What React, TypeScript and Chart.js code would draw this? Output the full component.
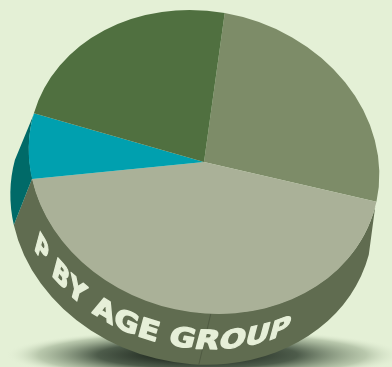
import { useEffect, useRef } from 'react';
import { Chart, registerables } from 'chart.js';
Chart.register(...registerables);

const labels = ['Group A', 'Group B', 'Group C', 'Group D'];
const values = [26, 44, 7, 23];
const topColors = ['#7d8c68', '#aab198', '#00a0af', '#507040'];
const wallColors = ['#5a6648', '#606c50', '#006a68', '#3a5530'];
const titleText = 'P BY AGE GROUP';

const BG = '#e4f0d6';
const CX = 204, CY = 162, AX = 177, BY = 150, TILT = (15 * Math.PI) / 180, DEPTH = 47;
const FLARE = 1.035;
const TXT_START = (142 * Math.PI) / 180, TXT_END = (46 * Math.PI) / 180;
const SEAM = (75 * Math.PI) / 180;

function applyView(ctx: CanvasRenderingContext2D, el: any) {
  const R = el.outerRadius;
  ctx.translate(CX, CY);
  ctx.rotate(TILT);
  ctx.scale(AX / R, BY / R);
  ctx.translate(-el.x, -el.y);
}

const pie3d = {
  id: 'pie3d',
  beforeDraw(chart: any) {
    const ctx: CanvasRenderingContext2D = chart.ctx;
    ctx.save();
    ctx.fillStyle = BG;
    ctx.fillRect(0, 0, chart.width, chart.height);
    ctx.translate(205, 355);
    ctx.scale(1, 0.13);
    const g = ctx.createRadialGradient(-15, 0, 0, 0, 0, 200);
    g.addColorStop(0, 'rgba(10,16,10,1)');
    g.addColorStop(0.5, 'rgba(40,55,40,0.8)');
    g.addColorStop(0.82, 'rgba(120,140,110,0.4)');
    g.addColorStop(1, 'rgba(228,240,214,0)');
    ctx.fillStyle = g;
    ctx.beginPath();
    ctx.arc(0, 0, 200, 0, Math.PI * 2);
    ctx.fill();
    ctx.restore();
  },
  beforeDatasetsDraw(chart: any) {
    const ctx: CanvasRenderingContext2D = chart.ctx;
    const meta = chart.getDatasetMeta(0);
    const el0 = meta.data[0];
    const R = el0.outerRadius;
    const x = el0.x, y = el0.y;
    const D = (DEPTH * R) / BY;
    const TAU = Math.PI * 2;
    ctx.save();
    applyView(ctx, el0);
    meta.data.forEach((el: any, i: number) => {
      const span = el.endAngle - el.startAngle;
      const s = ((el.startAngle % TAU) + TAU) % TAU;
      const e = s + span;
      for (const base of [0, TAU]) {
        const a0 = Math.max(s, base), a1 = Math.min(e, base + Math.PI);
        if (a1 > a0) {
          ctx.beginPath();
          ctx.arc(x, y - 1, R, a0, a1);
          ctx.arc(x, y + D, R * FLARE, a1, a0, true);
          ctx.closePath();
          ctx.fillStyle = wallColors[i];
          ctx.fill();
        }
      }
    });
    // seam
    ctx.beginPath();
    ctx.moveTo(x + R * Math.cos(SEAM), y + R * Math.sin(SEAM));
    ctx.lineTo(x + R * FLARE * Math.cos(SEAM), y + R * FLARE * Math.sin(SEAM) + D);
    ctx.strokeStyle = '#4f5a42';
    ctx.lineWidth = 1;
    ctx.stroke();
    // text on the wall
    const FS = 33;
    ctx.font = `bold ${FS}px "DejaVu Sans"`;
    const chars = [...titleText];
    const widths = chars.map((c) => ctx.measureText(c).width);
    const total = widths.reduce((a, b) => a + b, 0);
    const RT = R * (1 + (FLARE - 1) / 2);
    const sx = ((TXT_START - TXT_END) * RT) / total;
    const capH = FS * 0.73;
    let phi = TXT_START;
    ctx.fillStyle = '#e6efd8';
    ctx.strokeStyle = '#e6efd8';
    ctx.lineWidth = 1.6;
    ctx.lineJoin = 'round';
    ctx.textAlign = 'center';
    ctx.textBaseline = 'alphabetic';
    chars.forEach((c, i) => {
      const w = widths[i] * sx;
      const mid = phi - w / (2 * RT);
      const px = x + RT * Math.cos(mid);
      const py = y + RT * Math.sin(mid) + D / 2;
      ctx.save();
      ctx.translate(px, py);
      ctx.transform(Math.sin(mid), -Math.cos(mid), 0, 1, 0, 0);
      ctx.scale(sx, 1);
      ctx.fillText(c, 0, capH / 2);
      ctx.strokeText(c, 0, capH / 2);
      ctx.restore();
      phi -= w / RT;
    });
    ctx.restore();
    ctx.save();
    applyView(ctx, el0);
  },
  afterDatasetsDraw(chart: any) {
    chart.ctx.restore();
  },
};

export default function App() {
  const ref = useRef<HTMLCanvasElement>(null);
  useEffect(() => {
    document.body.style.margin = '0';
    document.body.style.background = BG;
    const chart = new Chart(ref.current!, {
      type: 'pie',
      data: {
        labels,
        datasets: [{ data: values, backgroundColor: topColors, borderWidth: 0 }],
      },
      options: {
        responsive: false,
        animation: false,
        rotation: -6,
        events: [],
        layout: { padding: 0 },
        plugins: { legend: { display: false }, tooltip: { enabled: false } },
      },
      plugins: [pie3d],
    });
    return () => chart.destroy();
  }, []);
  return <canvas ref={ref} width={392} height={367} style={{ display: 'block' }} />;
}
